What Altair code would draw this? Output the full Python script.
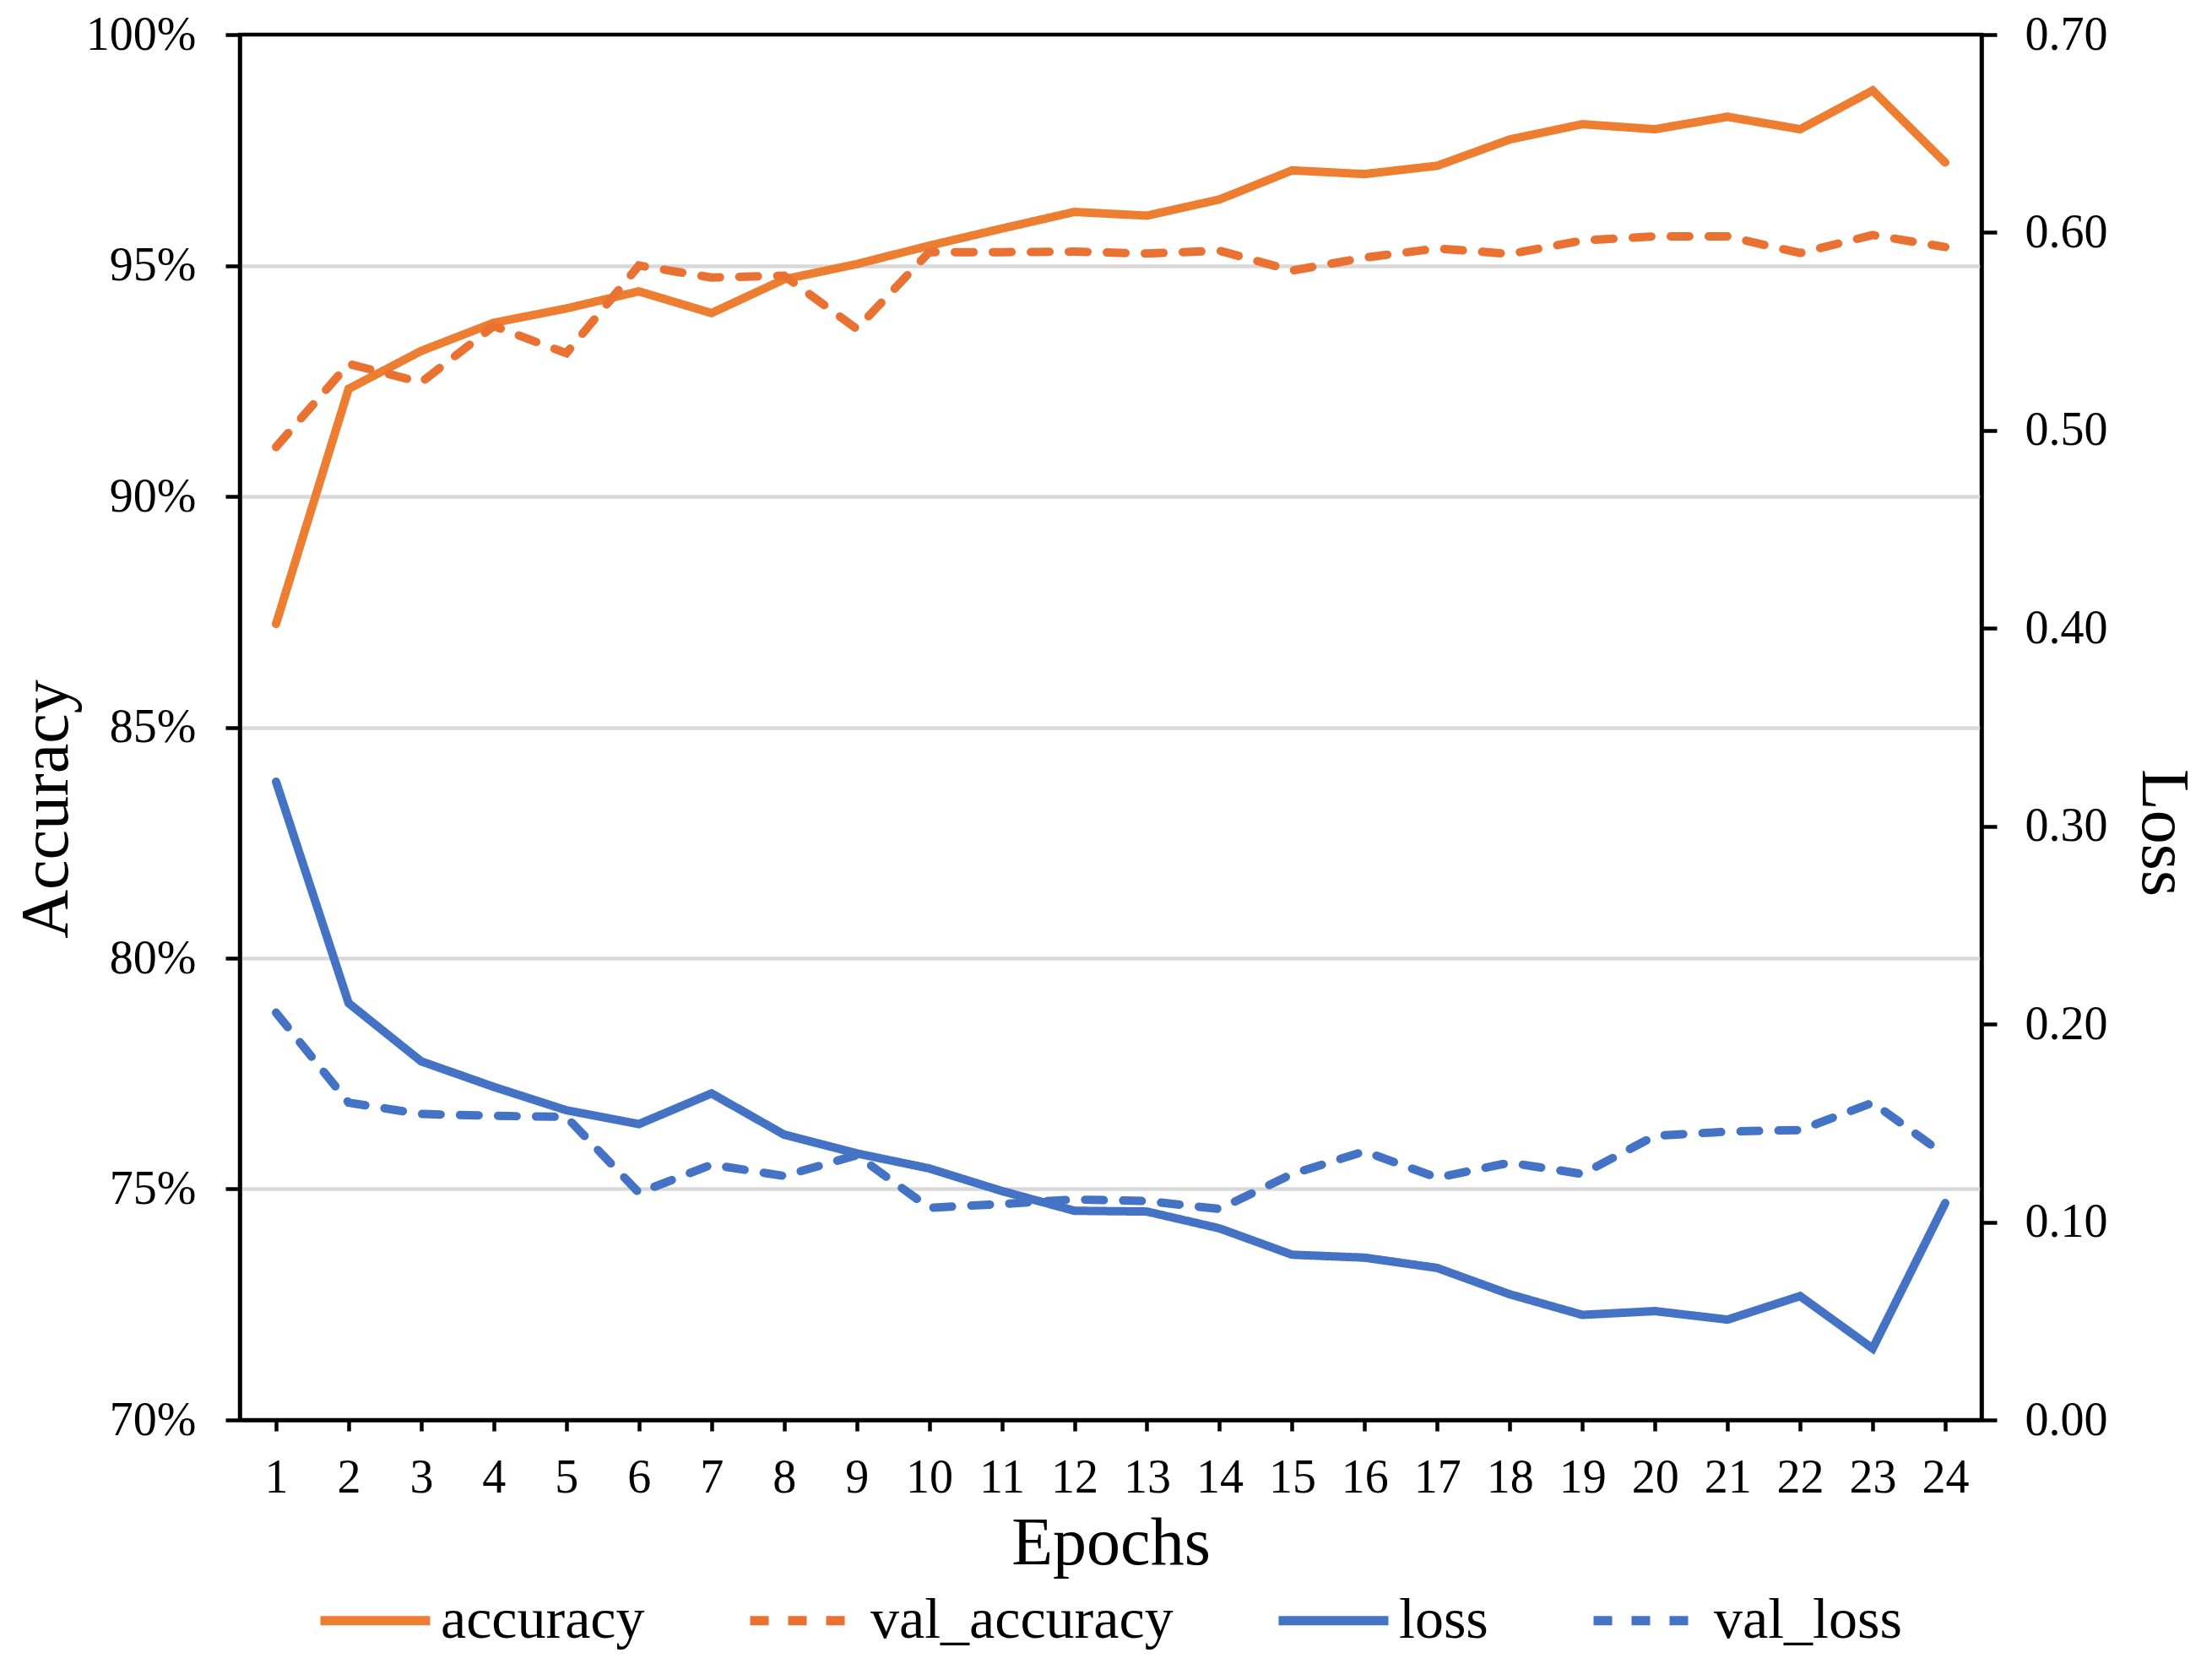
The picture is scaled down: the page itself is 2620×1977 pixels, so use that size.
import altair as alt
import pandas as pd

epochs = list(range(1, 25))
accuracy = [0.8724, 0.9233, 0.9315, 0.9376, 0.9407, 0.9444, 0.9397, 0.9470,
            0.9503, 0.9543, 0.9580, 0.9616, 0.9608, 0.9643, 0.9706, 0.9698,
            0.9716, 0.9773, 0.9806, 0.9795, 0.9822, 0.9795, 0.9879, 0.9723]
val_accuracy = [0.9107, 0.9287, 0.9247, 0.9369, 0.9310, 0.9500, 0.9474, 0.9478,
                0.9363, 0.9529, 0.9529, 0.9530, 0.9526, 0.9532, 0.9489, 0.9517,
                0.9537, 0.9525, 0.9554, 0.9563, 0.9563, 0.9527, 0.9566, 0.9540]
loss = [0.3225, 0.2106, 0.1812, 0.1683, 0.1565, 0.1495, 0.1650, 0.1442,
        0.1347, 0.1271, 0.1157, 0.1057, 0.1053, 0.0968, 0.0835, 0.0820,
        0.0768, 0.0635, 0.0531, 0.0550, 0.0507, 0.0626, 0.0361, 0.1096]
val_loss = [0.2058, 0.1603, 0.1546, 0.1537, 0.1531, 0.1148, 0.1290, 0.1233,
            0.1338, 0.1072, 0.1091, 0.1114, 0.1106, 0.1066, 0.1243, 0.1357,
            0.1224, 0.1300, 0.1243, 0.1436, 0.1457, 0.1465, 0.1603, 0.1338]

series = ["accuracy", "val_accuracy", "loss", "val_loss"]
colors = ["#ED7D31", "#E97132", "#4472C4", "#4472C4"]
dashes = [[1, 0], [22, 23], [1, 0], [22, 23]]
acc_ticks = [0.70, 0.75, 0.80, 0.85, 0.90, 0.95, 1.00]
loss_ticks = [0.0, 0.1, 0.2, 0.3, 0.4, 0.5, 0.6, 0.7]

def long(names, arrays):
    rows = []
    for n, arr in zip(names, arrays):
        for e, v in zip(epochs, arr):
            rows.append({"epoch": e, "series": n, "value": v})
    return pd.DataFrame(rows)

acc_df = long(["accuracy", "val_accuracy"], [accuracy, val_accuracy])
loss_df = long(["loss", "val_loss"], [loss, val_loss])

FONT = "Liberation Serif"
PLOT_H = 1641


def build(use_encode):
    leg_kwargs = dict(
        title=None, orient="none", legendX=90, legendY=1808, direction="horizontal",
        columns=4, columnPadding=102, labelOffset=7, symbolType="stroke",
        symbolSize=16900, symbolStrokeWidth=11, labelFont=FONT, labelFontSize=68,
        labelColor="black", padding=0, labelLimit=1000,
    )
    if use_encode:
        leg_kwargs["encode"] = {"symbols": {"update": {"strokeCap": {"value": "round"}}}}
    legend = alt.Legend(**leg_kwargs)

    x = alt.X("epoch:O", scale=alt.Scale(type="point", padding=0.5),
              axis=alt.Axis(title="Epochs", labelAngle=0, labelFontSize=56, tickSize=13,
                            labelPadding=28, titleFontSize=80, titleBaseline="alphabetic",
                            titleY=170, grid=False))
    color = alt.Color("series:N", scale=alt.Scale(domain=series, range=colors),
                      legend=legend, sort=series)
    dash = alt.StrokeDash("series:N", scale=alt.Scale(domain=series, range=dashes),
                          legend=legend, sort=series)

    acc_layer = alt.Chart(acc_df).mark_line(strokeWidth=10, strokeCap="round").encode(
        x=x,
        y=alt.Y("value:Q", scale=alt.Scale(domain=[0.7, 1.0], nice=False, zero=False),
                axis=alt.Axis(orient="left", title="Accuracy", values=acc_ticks, format=".0%",
                              labelFontSize=56, tickSize=17, labelPadding=35,
                              grid=True, gridColor="#D9D9D9", gridWidth=4.5,
                              gridOpacity={"condition": {"test": "datum.value < 0.71 || datum.value > 0.99", "value": 0}, "value": 1},
                              titleFontSize=80, titleAngle=-90, titleBaseline="alphabetic",
                              titleAlign="center", titleX=-205, titleY=917)),
        color=color,
        strokeDash=dash,
    )
    loss_layer = alt.Chart(loss_df).mark_line(strokeWidth=10, strokeCap="round").encode(
        x=x,
        y=alt.Y("value:Q", scale=alt.Scale(domain=[0.0, 0.7], nice=False),
                axis=alt.Axis(orient="right", title="Loss", values=loss_ticks, format=".2f",
                              labelFontSize=56, tickSize=18, labelPadding=33, grid=False,
                              titleFontSize=80, titleAngle=90, titleBaseline="alphabetic",
                              titleAlign="center", titleX=190, titleY=945)),
        color=color,
        strokeDash=dash,
    )
    chart = alt.layer(acc_layer, loss_layer).resolve_scale(y="independent").properties(
        width=2063, height=PLOT_H,
        autosize=alt.AutoSizeParams(type="none"),
        padding={"left": 276, "top": 33, "right": 265, "bottom": 287},
        background="white",
    ).configure_view(stroke="black", strokeWidth=4.5).configure_axis(
        domainColor="black", domainWidth=4.5, tickColor="black", tickWidth=4.5,
        labelColor="black", titleColor="black", labelFont=FONT, titleFont=FONT,
        titleFontWeight="normal",
    )
    return chart


try:
    chart = build(True)
    chart.to_dict()
except Exception:
    chart = build(False)

chart.save("out.html", embed_options={"renderer": "svg", "actions": False})
